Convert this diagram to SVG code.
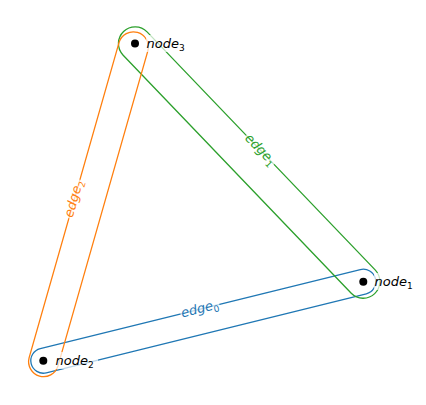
<svg xmlns="http://www.w3.org/2000/svg" width="426" height="405" viewBox="0 0 426 405">
<style>
.hull{fill:none;stroke-width:1.3}
.lbl{font-family:"DejaVu Sans",sans-serif;font-size:13px;font-style:italic}
.sub{font-size:9px;font-style:normal}
.bg{fill:#fff;opacity:0.7}
.dot{fill:#000}
</style>
<rect width="426" height="405" fill="#fff"/>
<g id="hyperedges">
  <g id="edge0">
    <path class="hull" stroke="#1f77b4" d="M40.3,348.56 L360.3,269.56 A12.5,12.5 0 0 1 366.3,293.84 L46.3,372.84 A12.5,12.5 0 0 1 40.3,348.56 Z"/>
  </g>
  <g id="edge1">
    <path class="hull" stroke="#2ca02c" d="M147.06,31.85 L375.36,270.15 A16.7,16.7 0 0 1 351.24,293.25 L122.94,54.95 A16.7,16.7 0 0 1 147.06,31.85 Z"/>
  </g>
  <g id="edge2">
    <path class="hull" stroke="#ff7f0e" d="M29.08,357.89 L119.08,42.39 A15,15 0 0 1 147.92,50.61 L57.92,366.11 A15,15 0 0 1 29.08,357.89 Z"/>
  </g>
</g>
<g id="edge-labels">
  <g id="edge0-label" transform="translate(200,309.5) rotate(-13.9)">
    <rect class="bg" x="-20" y="-8" width="40" height="16"/>
    <text class="lbl" fill="#1f77b4" x="0" y="3.5" text-anchor="middle">edge<tspan class="sub" dy="3">0</tspan></text>
  </g>
  <g id="edge1-label" transform="translate(260,150) rotate(46.2)">
    <rect class="bg" x="-20" y="-8" width="40" height="16"/>
    <text class="lbl" fill="#2ca02c" x="0" y="3.5" text-anchor="middle">edge<tspan class="sub" dy="3">1</tspan></text>
  </g>
  <g id="edge2-label" transform="translate(74.4,199) rotate(-74.1)">
    <rect class="bg" x="-20" y="-8" width="40" height="16"/>
    <text class="lbl" fill="#ff7f0e" x="0" y="3.5" text-anchor="middle">edge<tspan class="sub" dy="3">2</tspan></text>
  </g>
</g>
<g id="node1">
  <rect class="bg" x="374" y="273" width="43" height="17"/>
  <circle class="dot" cx="363.3" cy="281.7" r="4"/>
  <text class="lbl" fill="#000" x="374.5" y="286">node<tspan class="sub" dy="3">1</tspan></text>
</g>
<g id="node2">
  <rect class="bg" x="55" y="352" width="43" height="17"/>
  <circle class="dot" cx="43.3" cy="360.7" r="4"/>
  <text class="lbl" fill="#000" x="55.5" y="365">node<tspan class="sub" dy="3">2</tspan></text>
</g>
<g id="node3">
  <rect class="bg" x="146" y="35" width="43" height="17"/>
  <circle class="dot" cx="135" cy="43.4" r="4"/>
  <text class="lbl" fill="#000" x="146.5" y="48">node<tspan class="sub" dy="3">3</tspan></text>
</g>
</svg>
